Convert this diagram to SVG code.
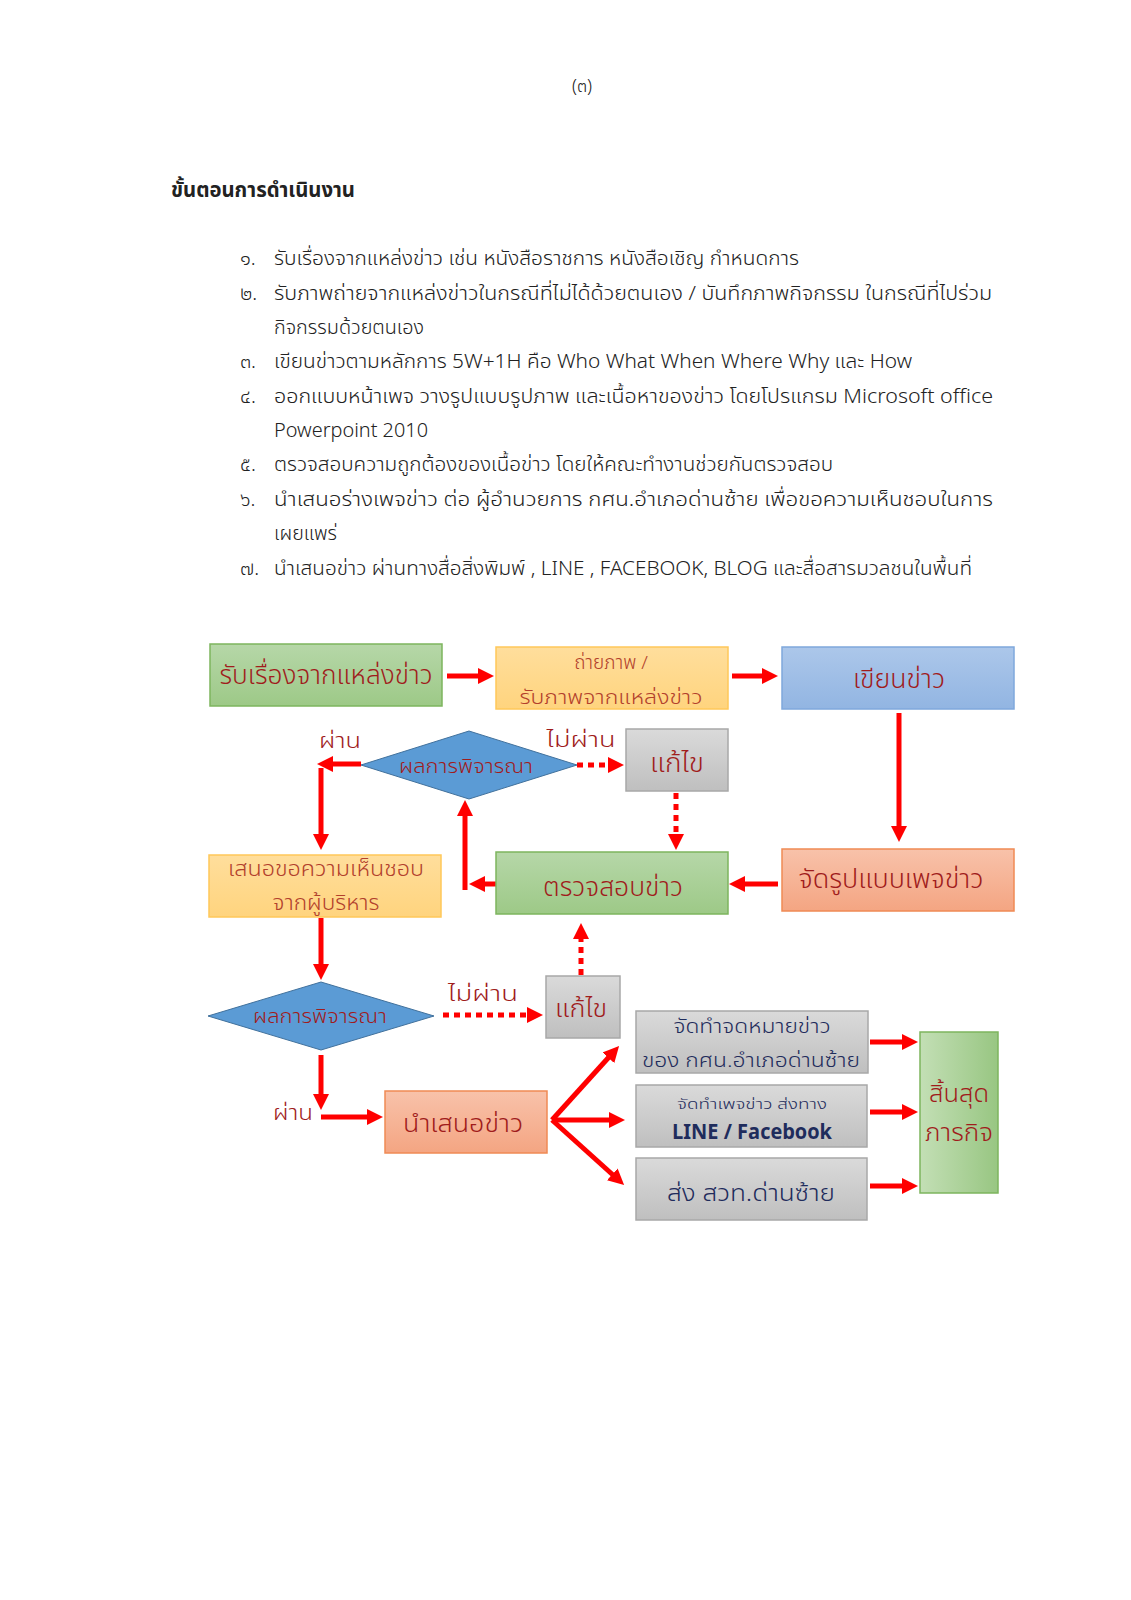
<svg xmlns="http://www.w3.org/2000/svg" width="1131" height="1600" viewBox="0 0 1131 1600">
<defs>
<linearGradient id="gGreen" x1="0" y1="0" x2="0" y2="1"><stop offset="0" stop-color="#B6D7A8"/><stop offset="1" stop-color="#9DC987"/></linearGradient>
<linearGradient id="gGreenH" x1="0" y1="0" x2="1" y2="0"><stop offset="0" stop-color="#C3DFB5"/><stop offset="1" stop-color="#98C682"/></linearGradient>
<linearGradient id="gOrange" x1="0" y1="0" x2="0" y2="1"><stop offset="0" stop-color="#FFDE9C"/><stop offset="1" stop-color="#FFD47E"/></linearGradient>
<linearGradient id="gBlue" x1="0" y1="0" x2="0" y2="1"><stop offset="0" stop-color="#ACC7EA"/><stop offset="1" stop-color="#92B5E2"/></linearGradient>
<linearGradient id="gSalmon" x1="0" y1="0" x2="0" y2="1"><stop offset="0" stop-color="#F8C2AA"/><stop offset="1" stop-color="#F4A582"/></linearGradient>
<linearGradient id="gGray" x1="0" y1="0" x2="0" y2="1"><stop offset="0" stop-color="#DADADA"/><stop offset="1" stop-color="#BFBFBF"/></linearGradient>
<marker id="ah" markerUnits="userSpaceOnUse" markerWidth="17" markerHeight="16" refX="1" refY="8" orient="auto" viewBox="0 0 17 16"><path d="M0,0 L16,8 L0,16 z" fill="#FF0000"/></marker>
</defs>
<style>
.txt{font-family:"Noto Sans Thai","Loma","Garuda","Norasi","Noto Sans",sans-serif;fill:#222;font-weight:300}
.dg{font-family:"Noto Sans Thai","Loma","Garuda","Noto Sans",sans-serif;fill:#A01C1C;font-weight:300}
.or{font-family:"Noto Sans Thai","Loma","Garuda","Noto Sans",sans-serif;fill:#B2402C;font-weight:300}
.nv{font-family:"Noto Sans Thai","Loma","Garuda","Noto Sans",sans-serif;fill:#1F2C5C;font-weight:300}
.green{fill:url(#gGreen);stroke:#7DB55E;stroke-width:1.5}
.orange{fill:url(#gOrange);stroke:#FFC85A;stroke-width:1.5}
.blue{fill:url(#gBlue);stroke:#7FA8DC;stroke-width:1.5}
.salmon{fill:url(#gSalmon);stroke:#F08A54;stroke-width:1.5}
.gray{fill:url(#gGray);stroke:#A8A8A8;stroke-width:1.5}
.dia{fill:#5B9BD5;stroke:#41719C;stroke-width:1}
.ar{stroke:#FF0000;stroke-width:5;fill:none;marker-end:url(#ah)}
.dot{stroke:#FF0000;stroke-width:5;fill:none;stroke-dasharray:6 5;marker-end:url(#ah)}
</style>
<rect width="1131" height="1600" fill="#FFFFFF"/>

<g id="page-text">
<text class="txt" x="582" y="92" font-size="18" text-anchor="middle">(๓)</text>
<text class="txt" x="171" y="197" font-size="21" font-weight="bold" style="font-weight:bold" textLength="184" lengthAdjust="spacingAndGlyphs">ขั้นตอนการดำเนินงาน</text>
<g font-size="20">
<text class="txt" x="240" y="265">๑.</text>
<text class="txt" x="274" y="265" textLength="525" lengthAdjust="spacingAndGlyphs">รับเรื่องจากแหล่งข่าว เช่น หนังสือราชการ หนังสือเชิญ กำหนดการ</text>
<text class="txt" x="240" y="300">๒.</text>
<text class="txt" x="274" y="300" textLength="718" lengthAdjust="spacingAndGlyphs">รับภาพถ่ายจากแหล่งข่าวในกรณีที่ไม่ได้ด้วยตนเอง / บันทึกภาพกิจกรรม ในกรณีที่ไปร่วม</text>
<text class="txt" x="274" y="334" textLength="150" lengthAdjust="spacingAndGlyphs">กิจกรรมด้วยตนเอง</text>
<text class="txt" x="240" y="368">๓.</text>
<text class="txt" x="274" y="368" textLength="638" lengthAdjust="spacingAndGlyphs">เขียนข่าวตามหลักการ 5W+1H คือ Who What When Where Why และ How</text>
<text class="txt" x="240" y="403">๔.</text>
<text class="txt" x="274" y="403" textLength="719" lengthAdjust="spacingAndGlyphs">ออกแบบหน้าเพจ วางรูปแบบรูปภาพ และเนื้อหาของข่าว  โดยโปรแกรม Microsoft office</text>
<text class="txt" x="274" y="437" textLength="154" lengthAdjust="spacingAndGlyphs">Powerpoint 2010</text>
<text class="txt" x="240" y="471">๕.</text>
<text class="txt" x="274" y="471" textLength="559" lengthAdjust="spacingAndGlyphs">ตรวจสอบความถูกต้องของเนื้อข่าว โดยให้คณะทำงานช่วยกันตรวจสอบ</text>
<text class="txt" x="240" y="506">๖.</text>
<text class="txt" x="274" y="506" textLength="719" lengthAdjust="spacingAndGlyphs">นำเสนอร่างเพจข่าว ต่อ ผู้อำนวยการ กศน.อำเภอด่านซ้าย เพื่อขอความเห็นชอบในการ</text>
<text class="txt" x="274" y="540" textLength="63" lengthAdjust="spacingAndGlyphs">เผยแพร่</text>
<text class="txt" x="240" y="575">๗.</text>
<text class="txt" x="274" y="575" textLength="698" lengthAdjust="spacingAndGlyphs">นำเสนอข่าว ผ่านทางสื่อสิ่งพิมพ์ , LINE , FACEBOOK, BLOG และสื่อสารมวลชนในพื้นที่</text>
</g>
</g>

<g id="connectors">
<path class="ar" d="M447,676 H479"/>
<path class="ar" d="M732,676 H763"/>
<path class="ar" d="M899,713 V827"/>
<path class="ar" d="M778,884 H744"/>
<path class="dot" d="M577,765 H609"/>
<path class="dot" d="M676,793 V835"/>
<path class="ar" d="M361,764 H332"/>
<path class="ar" d="M321,768 V835"/>
<path class="ar" d="M496,884 H484"/>
<path class="ar" d="M465,890 V815"/>
<path class="ar" d="M321,918 V965"/>
<path class="dot" d="M443,1015 H528"/>
<path class="dot" d="M581,975 V938"/>
<path class="ar" d="M321,1055 V1095"/>
<path class="ar" d="M321,1117 H368"/>
<path class="ar" d="M552,1120 L609,1057"/>
<path class="ar" d="M552,1120 H610"/>
<path class="ar" d="M552,1120 L613,1175"/>
<path class="ar" d="M870,1042 H903"/>
<path class="ar" d="M870,1112 H903"/>
<path class="ar" d="M870,1186 H903"/>
</g>

<g id="n1"><rect class="green" x="210" y="644" width="232" height="62"/>
<text class="dg" x="326" y="684" font-size="26" text-anchor="middle" textLength="213" lengthAdjust="spacingAndGlyphs">รับเรื่องจากแหล่งข่าว</text></g>
<g id="n2"><rect class="orange" x="496" y="647" width="232" height="62"/>
<text class="or" x="611" y="669" font-size="19" text-anchor="middle">ถ่ายภาพ /</text>
<text class="or" x="611" y="704" font-size="19" text-anchor="middle" textLength="183" lengthAdjust="spacingAndGlyphs">รับภาพจากแหล่งข่าว</text></g>
<g id="n3"><rect class="blue" x="782" y="647" width="232" height="62"/>
<text class="dg" x="899" y="688" font-size="26" text-anchor="middle" textLength="92" lengthAdjust="spacingAndGlyphs">เขียนข่าว</text></g>
<g id="d1"><polygon class="dia" points="361,765 469,731 577,765 469,799"/>
<text class="dg" x="466" y="773" font-size="19" text-anchor="middle" textLength="134" lengthAdjust="spacingAndGlyphs">ผลการพิจารณา</text></g>
<g id="fix1"><rect class="gray" x="626" y="729" width="102" height="62"/>
<text class="dg" x="677" y="772" font-size="26" text-anchor="middle" textLength="54" lengthAdjust="spacingAndGlyphs">แก้ไข</text></g>
<g id="n4"><rect class="orange" x="209" y="855" width="232" height="62"/>
<text class="or" x="326" y="876" font-size="21" text-anchor="middle" textLength="196" lengthAdjust="spacingAndGlyphs">เสนอขอความเห็นชอบ</text>
<text class="or" x="326" y="910" font-size="21" text-anchor="middle" textLength="107" lengthAdjust="spacingAndGlyphs">จากผู้บริหาร</text></g>
<g id="n5"><rect class="green" x="496" y="852" width="232" height="62"/>
<text class="dg" x="613" y="896" font-size="26" text-anchor="middle" textLength="140" lengthAdjust="spacingAndGlyphs">ตรวจสอบข่าว</text></g>
<g id="n6"><rect class="salmon" x="782" y="849" width="232" height="62"/>
<text class="dg" x="891" y="888" font-size="26" text-anchor="middle" textLength="185" lengthAdjust="spacingAndGlyphs">จัดรูปแบบเพจข่าว</text></g>
<g id="d2"><polygon class="dia" points="208,1016 321,982 434,1016 321,1050"/>
<text class="dg" x="320" y="1023" font-size="19" text-anchor="middle" textLength="134" lengthAdjust="spacingAndGlyphs">ผลการพิจารณา</text></g>
<g id="fix2"><rect class="gray" x="546" y="976" width="74" height="62"/>
<text class="dg" x="581" y="1017" font-size="24" text-anchor="middle" textLength="52" lengthAdjust="spacingAndGlyphs">แก้ไข</text></g>
<g id="n7"><rect class="salmon" x="385" y="1091" width="162" height="62"/>
<text class="dg" x="463" y="1132" font-size="24" text-anchor="middle" textLength="120" lengthAdjust="spacingAndGlyphs">นำเสนอข่าว</text></g>
<g id="nA"><rect class="gray" x="636" y="1011" width="232" height="62"/>
<text class="nv" x="752" y="1033" font-size="19" text-anchor="middle" textLength="157" lengthAdjust="spacingAndGlyphs">จัดทำจดหมายข่าว</text>
<text class="nv" x="751" y="1067" font-size="19" text-anchor="middle" textLength="218" lengthAdjust="spacingAndGlyphs">ของ กศน.อำเภอด่านซ้าย</text></g>
<g id="nB"><rect class="gray" x="636" y="1085" width="231" height="62"/>
<text class="nv" x="752" y="1109" font-size="15" text-anchor="middle" textLength="150" lengthAdjust="spacingAndGlyphs">จัดทำเพจข่าว ส่งทาง</text>
<text class="nv" x="752" y="1139" font-size="21" style="font-weight:bold" text-anchor="middle" textLength="160" lengthAdjust="spacingAndGlyphs">LINE / Facebook</text></g>
<g id="nC"><rect class="gray" x="636" y="1158" width="231" height="62"/>
<text class="nv" x="751" y="1201" font-size="23" text-anchor="middle" textLength="168" lengthAdjust="spacingAndGlyphs">ส่ง สวท.ด่านซ้าย</text></g>
<g id="end"><rect x="920" y="1032" width="78" height="161" fill="url(#gGreenH)" stroke="#7DB55E" stroke-width="1.5"/>
<text class="dg" x="959" y="1102" font-size="24" text-anchor="middle" textLength="60" lengthAdjust="spacingAndGlyphs">สิ้นสุด</text>
<text class="dg" x="959" y="1141" font-size="24" text-anchor="middle" textLength="68" lengthAdjust="spacingAndGlyphs">ภารกิจ</text></g>

<g id="labels">
<text class="dg" x="340" y="748" font-size="21" text-anchor="middle" textLength="42" lengthAdjust="spacingAndGlyphs">ผ่าน</text>
<text class="dg" x="581" y="747" font-size="21" text-anchor="middle" textLength="69" lengthAdjust="spacingAndGlyphs">ไม่ผ่าน</text>
<text class="dg" x="483" y="1001" font-size="21" text-anchor="middle" textLength="70" lengthAdjust="spacingAndGlyphs">ไม่ผ่าน</text>
<text class="dg" x="293" y="1120" font-size="21" text-anchor="middle" textLength="40" lengthAdjust="spacingAndGlyphs">ผ่าน</text>
</g>
</svg>
